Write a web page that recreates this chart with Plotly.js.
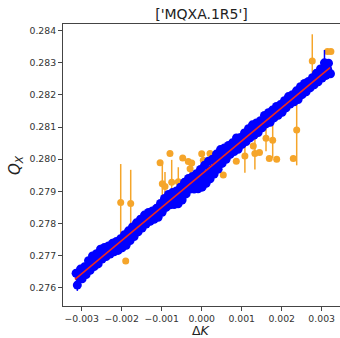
<!DOCTYPE html>
<html>
<head>
<meta charset="utf-8">
<script src="https://cdn.plot.ly/plotly-3.0.1.min.js"></script>
<style>html,body{margin:0;padding:0;background:#fff;}#chart{width:340px;height:338px;}</style>
</head>
<body>
<div id="chart"></div>
<script>
// Blue measurements (upper edge, middle and lower edge of the band)
const blueUpperX = [-0.00314,-0.00303,-0.00293,-0.00283,-0.00273,-0.00263,-0.00253,-0.00243,-0.00233,-0.00223,-0.00213,-0.00203,-0.00193,-0.00183,-0.00173,-0.00163,-0.00153,-0.00143,-0.00133,-0.00123,-0.00113,-0.00103,-0.00093,-0.00083,-0.00073,-0.00063,-0.00053,-0.00043,-0.00033,-0.00023,-0.00013,-0.00003,0.00007,0.00017,0.00027,0.00037,0.00047,0.00057,0.00067,0.00077,0.00087,0.00097,0.00107,0.00117,0.00127,0.00137,0.00147,0.00157,0.00167,0.00177,0.00187,0.00197,0.00207,0.00217,0.00227,0.00237,0.00247,0.00257,0.00267,0.00277,0.00287,0.00297,0.00307,0.00317];
const blueUpperY = [0.27645,0.27658,0.27665,0.27684,0.27699,0.27706,0.27720,0.27725,0.27730,0.27738,0.27744,0.27752,0.27765,0.27777,0.27789,0.27802,0.27813,0.27826,0.27834,0.27839,0.27847,0.27862,0.27878,0.27890,0.27896,0.27901,0.27913,0.27928,0.27940,0.27946,0.27955,0.27968,0.27981,0.27994,0.28000,0.28016,0.28030,0.28035,0.28043,0.28051,0.28066,0.28068,0.28082,0.28095,0.28107,0.28113,0.28120,0.28136,0.28145,0.28153,0.28164,0.28170,0.28182,0.28195,0.28201,0.28213,0.28226,0.28236,0.28242,0.28254,0.28268,0.28281,0.28300,0.28299];
const blueUpperErr = [0.0001,0.0001,0.0001,0.0001,0.0001,0.0001,0.0001,0.0001,0.0001,0.0001,0.0001,0.0001,0.0001,0.0001,0.0001,0.0001,0.0001,0.0001,0.0001,0.0001,0.0001,0.0001,0.0001,0.0001,0.0001,0.0001,0.0001,0.0001,0.0001,0.0001,0.0001,0.0001,0.0001,0.0001,0.0001,0.0001,0.0001,0.0001,0.0001,0.0001,0.0001,0.0001,0.0001,0.0001,0.0001,0.0001,0.0001,0.0001,0.0001,0.0001,0.0001,0.0001,0.0001,0.0001,0.0001,0.0001,0.0001,0.0001,0.0001,0.0001,0.0001,0.0001,0.0004,0.0001];
const blueMidX = [-0.00305,-0.00295,-0.00285,-0.00275,-0.00265,-0.00255,-0.00245,-0.00235,-0.00225,-0.00215,-0.00205,-0.00195,-0.00185,-0.00175,-0.00165,-0.00155,-0.00145,-0.00135,-0.00125,-0.00115,-0.00105,-0.00095,-0.00085,-0.00075,-0.00065,-0.00055,-0.00045,-0.00035,-0.00025,-0.00015,-0.00005,0.00005,0.00015,0.00025,0.00035,0.00045,0.00055,0.00065,0.00075,0.00085,0.00095,0.00105,0.00115,0.00125,0.00135,0.00145,0.00155,0.00165,0.00175,0.00185,0.00195,0.00205,0.00215,0.00225,0.00235,0.00245,0.00255,0.00265,0.00275,0.00285,0.00295,0.00305,0.00315];
const blueMidY = [0.27630,0.27646,0.27656,0.27672,0.27686,0.27693,0.27707,0.27714,0.27720,0.27728,0.27733,0.27741,0.27751,0.27765,0.27777,0.27791,0.27802,0.27815,0.27823,0.27829,0.27836,0.27851,0.27867,0.27877,0.27880,0.27884,0.27896,0.27913,0.27926,0.27929,0.27934,0.27943,0.27956,0.27969,0.27980,0.27995,0.28011,0.28020,0.28032,0.28040,0.28051,0.28060,0.28071,0.28084,0.28094,0.28101,0.28112,0.28126,0.28133,0.28144,0.28153,0.28161,0.28174,0.28186,0.28193,0.28202,0.28216,0.28226,0.28235,0.28246,0.28257,0.28270,0.28280];
const blueMidErr = [0.0001,0.0001,0.0001,0.0001,0.0001,0.0001,0.0001,0.0001,0.0001,0.0001,0.0001,0.0001,0.0001,0.0001,0.0001,0.0001,0.0001,0.0001,0.0001,0.0001,0.0001,0.0001,0.0001,0.0001,0.0001,0.0001,0.0001,0.0001,0.0001,0.0001,0.0001,0.0001,0.0001,0.0001,0.0001,0.0001,0.0001,0.0001,0.0001,0.0001,0.0001,0.0001,0.0001,0.0001,0.0001,0.0001,0.0001,0.0001,0.0001,0.0001,0.0001,0.0001,0.0001,0.0001,0.0001,0.0001,0.0001,0.0001,0.0001,0.0001,0.0001,0.0001,0.0001];
const blueLowerX = [-0.00311,-0.00299,-0.00289,-0.00279,-0.00269,-0.00259,-0.00249,-0.00239,-0.00229,-0.00219,-0.00209,-0.00199,-0.00189,-0.00179,-0.00169,-0.00159,-0.00149,-0.00139,-0.00129,-0.00119,-0.00109,-0.00099,-0.00089,-0.00079,-0.00069,-0.00059,-0.00049,-0.00039,-0.00029,-0.00019,-0.00009,0.00001,0.00011,0.00021,0.00031,0.00041,0.00051,0.00061,0.00071,0.00081,0.00091,0.00101,0.00111,0.00121,0.00131,0.00141,0.00151,0.00161,0.00171,0.00181,0.00191,0.00201,0.00211,0.00221,0.00231,0.00241,0.00251,0.00261,0.00271,0.00281,0.00291,0.00301,0.00311,0.00322];
const blueLowerY = [0.27608,0.27628,0.27641,0.27654,0.27666,0.27674,0.27689,0.27697,0.27705,0.27712,0.27716,0.27724,0.27732,0.27747,0.27759,0.27774,0.27786,0.27798,0.27807,0.27813,0.27819,0.27835,0.27850,0.27858,0.27859,0.27861,0.27873,0.27892,0.27907,0.27907,0.27908,0.27913,0.27925,0.27939,0.27954,0.27969,0.27987,0.28000,0.28015,0.28024,0.28031,0.28046,0.28055,0.28067,0.28075,0.28083,0.28098,0.28110,0.28115,0.28129,0.28137,0.28146,0.28160,0.28172,0.28179,0.28186,0.28201,0.28210,0.28222,0.28232,0.28241,0.28253,0.28261,0.28266];
const blueLowerErr = [0.00018,0.0001,0.0001,0.0001,0.0001,0.0001,0.0001,0.0001,0.0001,0.0001,0.0001,0.0001,0.0001,0.0001,0.0001,0.0001,0.0001,0.0001,0.0001,0.0001,0.0001,0.0001,0.0001,0.0001,0.0001,0.0001,0.0001,0.0001,0.0001,0.0001,0.0001,0.0001,0.0001,0.0001,0.0001,0.0001,0.0001,0.0001,0.0001,0.0001,0.0001,0.0001,0.0001,0.0001,0.0001,0.0001,0.0001,0.0001,0.0001,0.0001,0.0001,0.0001,0.0001,0.0001,0.0001,0.0001,0.0001,0.0001,0.0001,0.0001,0.0001,0.0001,0.0001,0.0001];

// Orange (outlier) measurements
const orangeX = [-0.002025,-0.001775,-0.0019,-0.00104,-0.000985,-0.000918,-0.000793,-0.00075,-0.000585,-0.000475,-0.000335,-0.00025,-0.00029,0.0,0.00004,0.000208,0.00054,0.000865,0.00108,0.00129,0.00133,0.001445,0.001608,0.001775,0.00169,0.001875,0.00229,0.002375,0.002765,0.003145,0.00323];
const orangeY = [0.27865,0.27862,0.27683,0.27989,0.27924,0.27915,0.28018,0.27928,0.2793,0.28004,0.27993,0.27988,0.2797,0.28017,0.27997,0.28018,0.27951,0.27994,0.2801,0.28041,0.28018,0.28021,0.28065,0.28059,0.28002,0.28,0.28002,0.28091,0.28306,0.28335,0.28335];
const orangeErr = [0.0012,0.00105,0.00005,0.00005,0.00062,0.00045,0.00005,0.0007,0.00045,0.00005,0.00005,0.00005,0.00025,0.00005,0.00005,0.00005,0.00005,0.00005,0.00052,0.0001,0.0005,0.00005,0.0004,0.00055,0.00005,0.00005,0.00005,0.0011,0.00083,0.00005,0.00005];

// Fitted line end points
const fitX = [-0.00317, 0.00321];
const fitY = [0.27626, 0.28285];

// Axis ticks and labels
const xTicks = [-0.003,-0.002,-0.001,0.0,0.001,0.002,0.003];
const yTicks = [0.276,0.277,0.278,0.279,0.280,0.281,0.282,0.283,0.284];
const titleText = "['MQXA.1R5']";
const xLabel = 'Δ<i>K</i>';
const yLabel = '<i>Q</i><sub><i>X</i></sub>';

const blueColor = '#0000ff';
const orangeColor = '#f5a52a';

function blueTrace(xs, ys, errs) {
  return {
    x: xs, y: ys, type: 'scatter', mode: 'markers',
    marker: {color: blueColor, size: 9, line: {width: 0}},
    error_y: {type: 'data', array: errs, visible: true, color: blueColor, thickness: 1.5, width: 0},
    hoverinfo: 'skip'
  };
}

const traces = [
  {
    x: orangeX, y: orangeY, type: 'scatter', mode: 'markers',
    marker: {color: orangeColor, size: 7, line: {width: 0}},
    error_y: {type: 'data', array: orangeErr, visible: true, color: orangeColor, thickness: 1.5, width: 0},
    hoverinfo: 'skip'
  },
  blueTrace(blueUpperX, blueUpperY, blueUpperErr),
  blueTrace(blueLowerX, blueLowerY, blueLowerErr),
  blueTrace(blueMidX, blueMidY, blueMidErr),
  {
    x: fitX, y: fitY, type: 'scatter', mode: 'lines',
    line: {color: '#ee2a1e', width: 1.6},
    hoverinfo: 'skip'
  }
];

const layout = {
  width: 340, height: 338,
  margin: {l: 63, r: 0, t: 24, b: 32, pad: 0},
  paper_bgcolor: '#ffffff', plot_bgcolor: '#ffffff',
  showlegend: false,
  font: {family: 'DejaVu Sans, sans-serif', color: '#333', size: 9.3},
  title: {text: titleText, font: {size: 14, color: '#222'}, x: 0.5, xref: 'paper', xanchor: 'center', y: 1 - 14/338, yref: 'container', yanchor: 'middle'},
  xaxis: {
    range: [-0.003468, 0.003458],
    tickvals: xTicks, tickformat: '.3f',
    ticks: 'outside', ticklen: 4, tickwidth: 1, tickcolor: '#444',
    showline: true, linecolor: '#444', linewidth: 1, mirror: true,
    showgrid: false, zeroline: false
  },
  yaxis: {
    range: [0.27543, 0.28421],
    tickvals: yTicks, tickformat: '.3f',
    ticks: 'outside', ticklen: 4, tickwidth: 1, tickcolor: '#444',
    showline: true, linecolor: '#444', linewidth: 1, mirror: false,
    showgrid: false, zeroline: false
  },
  annotations: [
    {text: xLabel, xref: 'paper', yref: 'paper', x: 0.5, y: -24.5/282, xanchor: 'center', yanchor: 'middle',
     showarrow: false, borderpad: 0, font: {size: 12.5, color: '#222'}},
    {text: yLabel, xref: 'paper', yref: 'paper', x: -48/277, y: 0.5, xanchor: 'center', yanchor: 'middle',
     textangle: -90, showarrow: false, font: {size: 15, color: '#222'}}
  ]
};

Plotly.newPlot('chart', traces, layout, {displayModeBar: false, staticPlot: true});
</script>
</body>
</html>
